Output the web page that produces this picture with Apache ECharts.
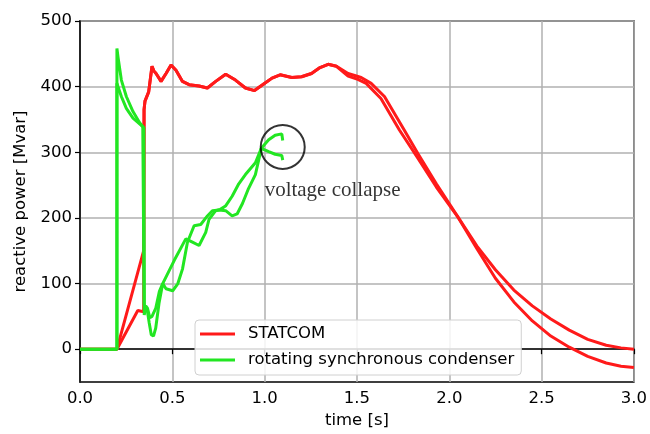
<!DOCTYPE html>
<html>
<head>
<meta charset="utf-8">
<script src="https://cdn.jsdelivr.net/npm/echarts@6/dist/echarts.min.js"></script>
<style>
html,body{margin:0;padding:0;background:#fff;}
#chart{width:650px;height:434px;}
</style>
</head>
<body>
<div id="chart"></div>
<script>
// ---- data ----
const legendNames = ['STATCOM', 'rotating synchronous condenser'];
const xTicks = [0, 0.5, 1.0, 1.5, 2.0, 2.5, 3.0];
const yTicks = [0, 100, 200, 300, 400, 500];

const statcomA_t = [0, 0.2, 0.313, 0.345, 0.347, 0.352, 0.372, 0.39, 0.40, 0.412, 0.439, 0.466, 0.493, 0.52, 0.555, 0.591, 0.645, 0.69, 0.735, 0.789, 0.842, 0.896, 0.945, 0.995, 1.04, 1.084, 1.147, 1.2, 1.254, 1.3, 1.344, 1.389, 1.452, 1.523, 1.577, 1.649, 1.756, 1.83, 1.93, 2.05, 2.15, 2.25, 2.35, 2.45, 2.55, 2.65, 2.75, 2.85, 2.93, 3.0];
const statcomA_v = [0, 0, 59, 57, 365, 378, 392, 431, 424, 420, 408, 420, 433, 425, 408, 403, 401, 398, 408, 419, 410, 398, 394, 404, 413, 418, 414, 415, 420, 429, 434, 431, 420, 414, 405, 385, 334, 298, 252, 200, 153, 108, 72, 43, 20, 3, -11, -21, -26, -28];

const statcomB_t = [0, 0.2, 0.345, 0.347, 0.352, 0.372, 0.39, 0.40, 0.412, 0.439, 0.466, 0.493, 0.52, 0.555, 0.591, 0.645, 0.69, 0.735, 0.789, 0.842, 0.896, 0.945, 0.995, 1.04, 1.084, 1.147, 1.2, 1.254, 1.3, 1.344, 1.389, 1.452, 1.505, 1.55, 1.63, 1.73, 1.83, 1.93, 2.05, 2.15, 2.25, 2.35, 2.45, 2.55, 2.65, 2.75, 2.85, 2.93, 3.0];
const statcomB_v = [0, 0, 150, 365, 378, 392, 431, 424, 420, 408, 420, 433, 425, 408, 403, 401, 398, 408, 419, 410, 398, 394, 404, 413, 418, 414, 415, 420, 429, 434, 431, 416, 411, 405, 382, 334, 291, 247, 200, 157, 121, 90, 66, 46, 29, 15, 6, 2, 0];

const condA_t = [0, 0.2, 0.2, 0.206, 0.224, 0.251, 0.287, 0.323, 0.346, 0.348, 0.356, 0.365, 0.375, 0.386, 0.398, 0.41, 0.428, 0.448, 0.466, 0.502, 0.53, 0.555, 0.582, 0.618, 0.654, 0.69, 0.717, 0.753, 0.789, 0.824, 0.851, 0.88, 0.91, 0.95, 0.982, 1.022, 1.057, 1.093, 1.098, 1.098];
const condA_v = [0, 0, 458, 445, 410, 385, 362, 345, 337, 68, 70, 58, 40, 22, 20, 32, 70, 100, 92, 89, 100, 122, 163, 188, 190, 203, 211, 212, 211, 203, 206, 222, 243, 266, 306, 319, 326, 328, 328, 318];

const condB_t = [0, 0.2, 0.2, 0.206, 0.224, 0.251, 0.287, 0.34, 0.346, 0.348, 0.356, 0.366, 0.378, 0.39, 0.41, 0.43, 0.448, 0.51, 0.573, 0.609, 0.645, 0.681, 0.699, 0.735, 0.76, 0.788, 0.824, 0.86, 0.896, 0.95, 0.982, 1.022, 1.057, 1.093, 1.098, 1.098];
const condB_v = [0, 0, 405, 400, 385, 367, 352, 339, 336, 52, 66, 62, 48, 50, 62, 88, 100, 135, 168, 163, 158, 178, 198, 211, 213, 218, 233, 252, 266, 284, 306, 301, 297, 295, 295, 288];

const circlePoint = [1.098, 308];
const annotationPoint = [1.0, 242];
const annotationText = 'voltage collapse';

function zip(t, v) { return t.map((x, i) => [x, v[i]]); }

const RED = '#ff1a1a';
const GREEN = '#22e622';
const FONT = 'DejaVu Sans';

const chart = echarts.init(document.getElementById('chart'), null, {renderer: 'canvas'});

function lineSeries(name, data, color) {
  return {
    name: name, type: 'line', data: data, symbol: 'none', smooth: false,
    lineStyle: {color: color, width: 3}, itemStyle: {color: color},
    silent: true, animation: false, z: 2
  };
}

chart.setOption({
  animation: false,
  backgroundColor: '#fff',
  grid: {left: 80, right: 12, top: 21, bottom: 51, show: true, borderColor: '#000', borderWidth: 1.5, backgroundColor: 'transparent'},
  legend: {
    data: legendNames.map(n => ({name: n, icon: 'rect'})),
    orient: 'vertical', left: 195, top: 320,
    backgroundColor: 'rgba(255,255,255,0.85)', borderColor: '#d0d0d0', borderWidth: 1, borderRadius: 4,
    padding: [5, 7, 6, 5], itemWidth: 35, itemHeight: 3, itemGap: 8,
    textStyle: {fontSize: 16.5, lineHeight: 18, color: '#000', fontFamily: FONT, padding: [0, 0, 0, 8]}
  },
  xAxis: {
    type: 'value', min: xTicks[0], max: xTicks[xTicks.length - 1], interval: 0.5,
    name: 'time [s]', nameLocation: 'middle', nameGap: 30,
    nameTextStyle: {fontSize: 16.5, color: '#000', fontFamily: FONT},
    axisLine: {show: true, lineStyle: {color: '#000', width: 1.5}},
    axisTick: {show: true, inside: false, length: 5, lineStyle: {color: '#000', width: 1.2}},
    axisLabel: {fontSize: 16.5, color: '#000', fontFamily: FONT, margin: 8, formatter: v => v.toFixed(1)},
    splitLine: {show: true, lineStyle: {color: '#b0b0b0', width: 1.5}}
  },
  yAxis: {
    type: 'value', min: -50, max: 500,
    name: 'reactive power [Mvar]', nameLocation: 'middle', nameGap: 51,
    nameTextStyle: {fontSize: 16.5, color: '#000', fontFamily: FONT},
    axisLine: {show: true, lineStyle: {color: '#000', width: 1.5}},
    axisTick: {show: true, inside: false, length: 5, lineStyle: {color: '#000', width: 1.2}, customValues: yTicks},
    axisLabel: {fontSize: 16.5, color: '#000', fontFamily: FONT, margin: 8, customValues: yTicks,
      formatter: v => (yTicks.indexOf(v) >= 0 ? String(v) : '')},
    splitLine: {show: true, lineStyle: {color: '#b0b0b0', width: 1.5}}
  },
  series: [
    lineSeries(legendNames[0], zip(statcomA_t, statcomA_v), RED),
    lineSeries(legendNames[0], zip(statcomB_t, statcomB_v), RED),
    lineSeries(legendNames[1], zip(condA_t, condA_v), GREEN),
    lineSeries(legendNames[1], zip(condB_t, condB_v), GREEN),
    {
      name: 'circle', type: 'scatter', data: [circlePoint], symbol: 'circle', symbolSize: 44,
      itemStyle: {color: 'rgba(0,0,0,0)', borderColor: '#000', borderWidth: 2},
      silent: true, z: 5
    },
    {
      name: 'annotation', type: 'scatter', data: [annotationPoint], symbolSize: 0,
      label: {show: true, position: 'right', distance: 0, formatter: annotationText,
        fontFamily: 'Liberation Serif', fontSize: 21, color: '#000'},
      silent: true, z: 5
    }
  ]
});
</script>
</body>
</html>
